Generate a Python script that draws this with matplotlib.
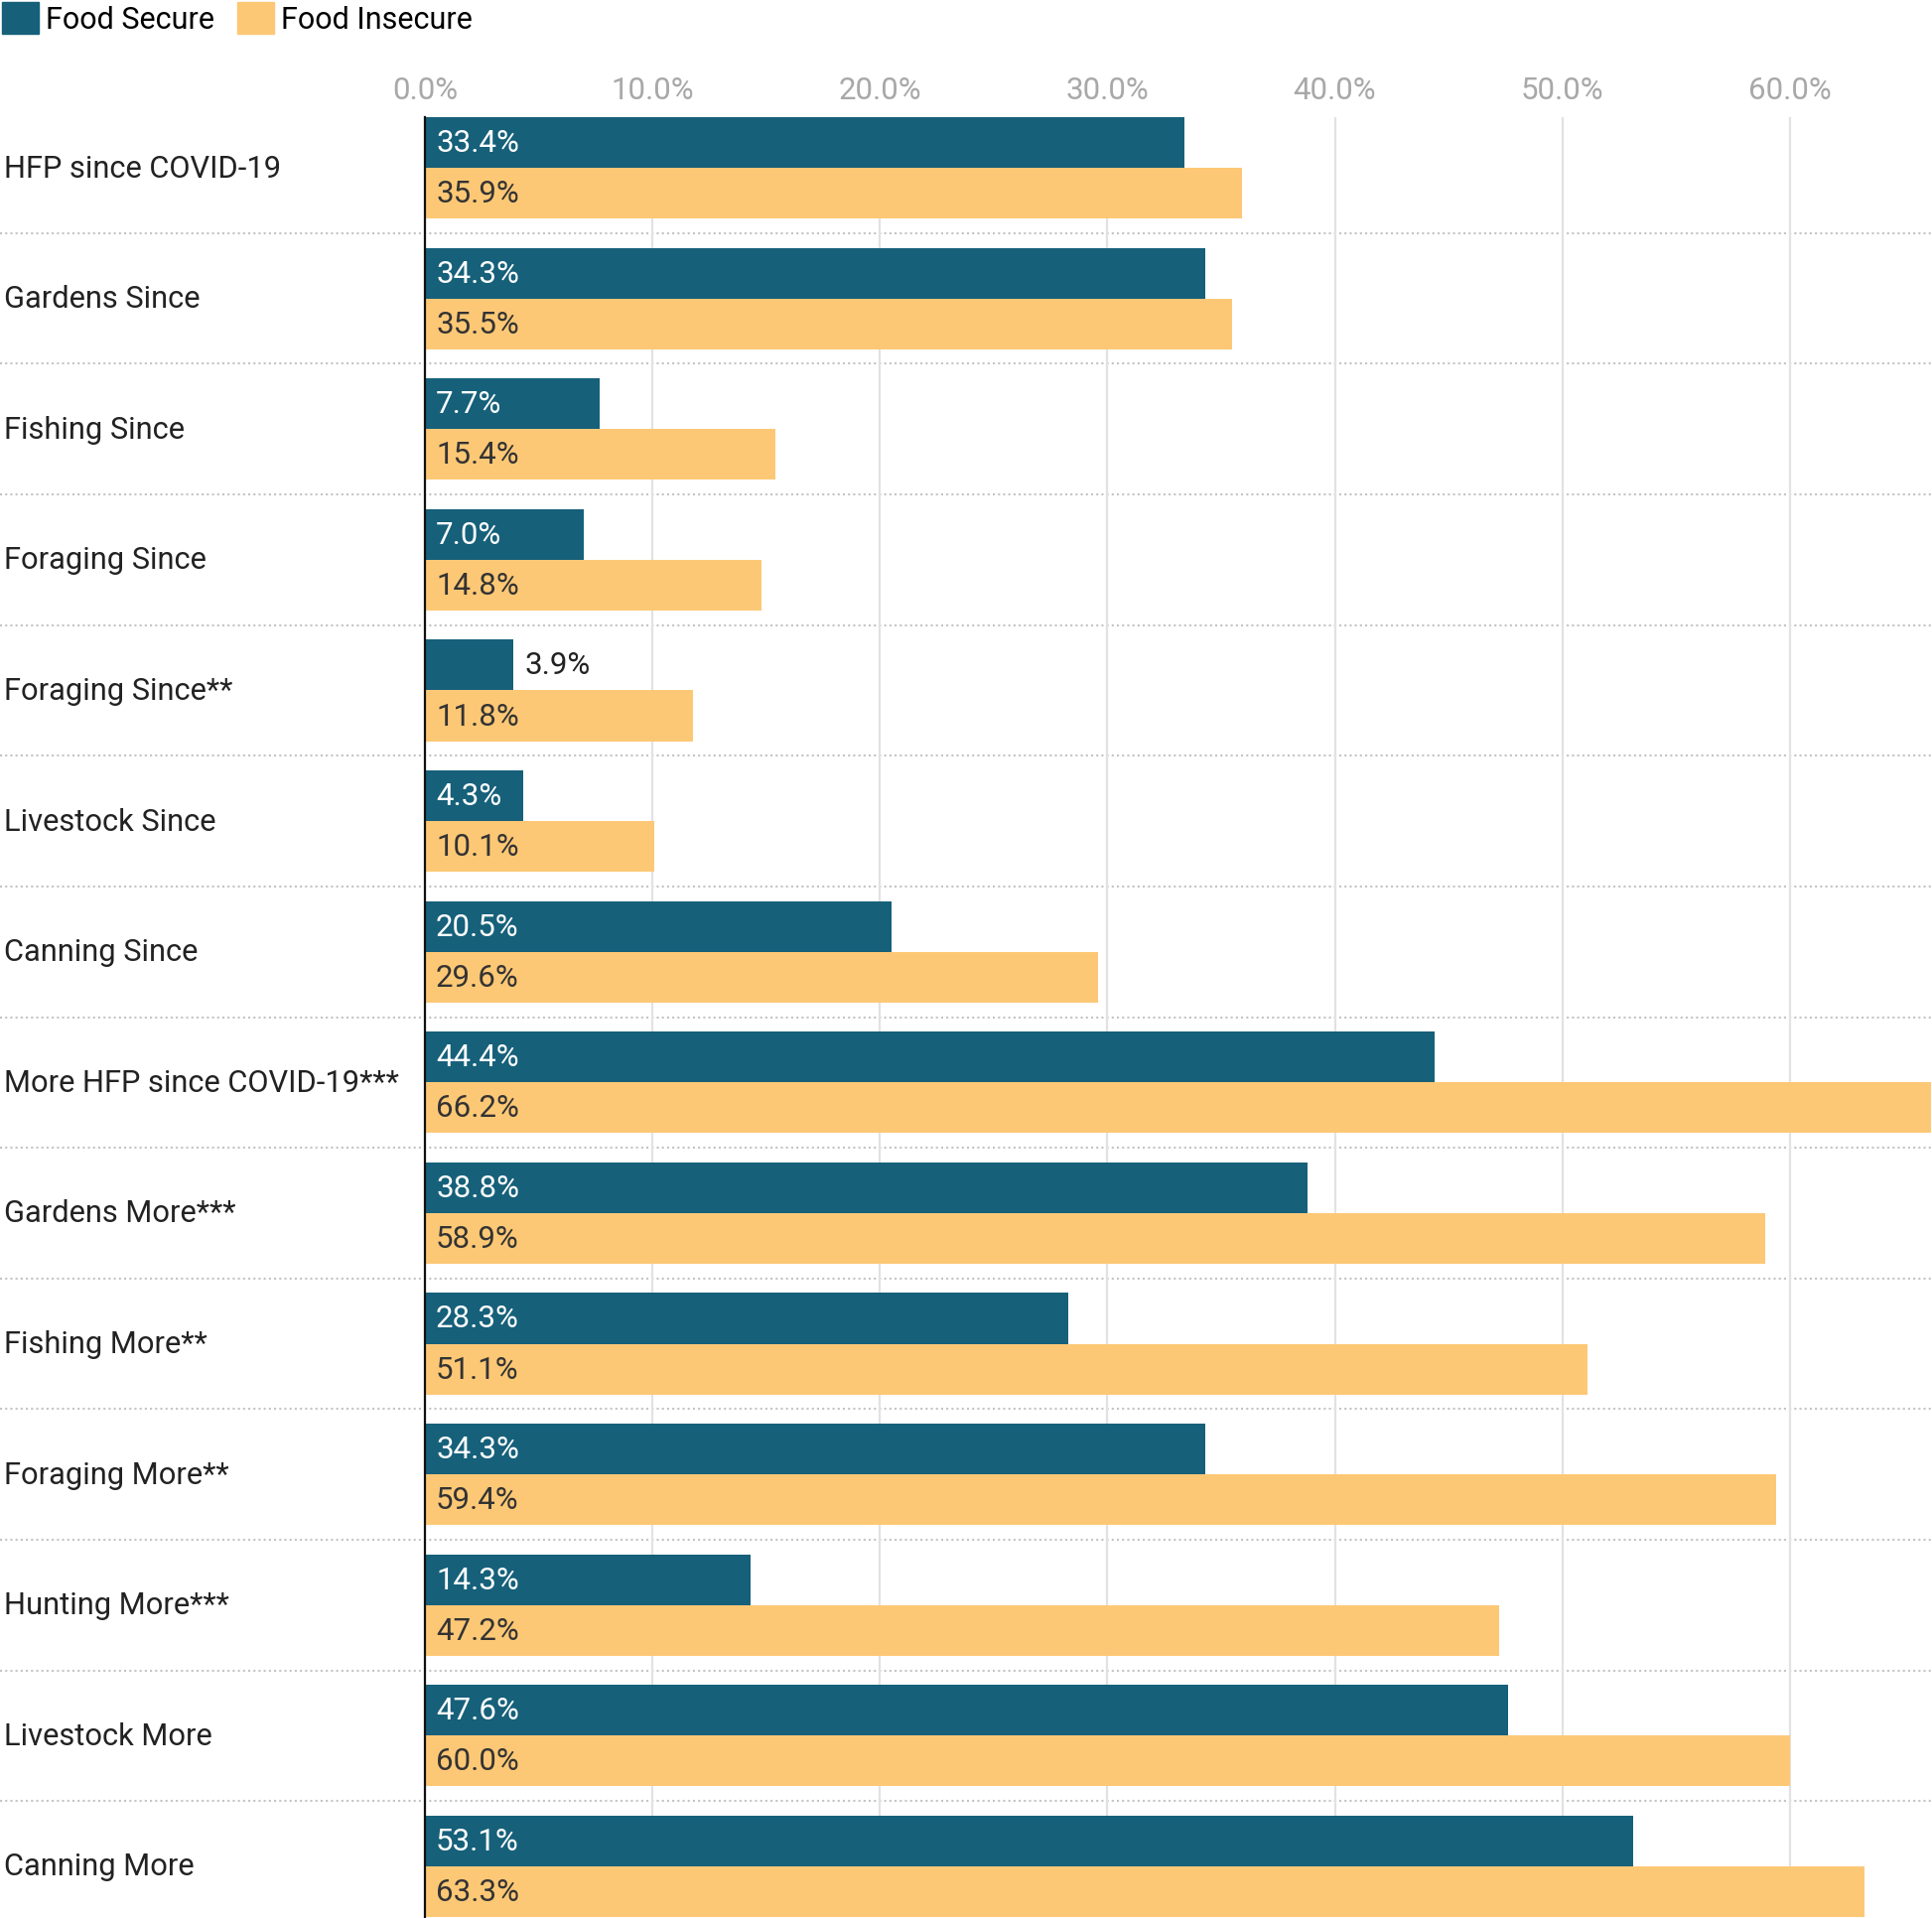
import matplotlib.pyplot as plt
import matplotlib.transforms as mtransforms
from matplotlib.patches import Patch

plt.rcParams['font.family'] = ['Roboto', 'DejaVu Sans']

categories = ["HFP since COVID-19", "Gardens Since", "Fishing Since", "Foraging Since",
              "Foraging Since**", "Livestock Since", "Canning Since",
              "More HFP since COVID-19***", "Gardens More***", "Fishing More**",
              "Foraging More**", "Hunting More***", "Livestock More", "Canning More"]
food_secure = [33.4, 34.3, 7.7, 7.0, 3.9, 4.3, 20.5, 44.4, 38.8, 28.3, 34.3, 14.3, 47.6, 53.1]
food_insecure = [35.9, 35.5, 15.4, 14.8, 11.8, 10.1, 29.6, 66.2, 58.9, 51.1, 59.4, 47.2, 60.0, 63.3]
ticks = [0, 10, 20, 30, 40, 50, 60]

TEAL = "#16607a"
YELLOW = "#fdc875"
FS = 22.5

fig = plt.figure(figsize=(19.46, 19.33), dpi=100)
ax = fig.add_axes([428 / 1946, 1 / 1933, 1 - 428 / 1946, (1932 - 119) / 1933])

h = 0.388
ys = list(range(len(categories)))
ax.barh([y - h / 2 for y in ys], food_secure, height=h, color=TEAL, zorder=3)
ax.barh([y + h / 2 for y in ys], food_insecure, height=h, color=YELLOW, zorder=3)

ax.set_xlim(0, 66.25)
ax.set_ylim(len(categories) - 1 + h, -h)

# value labels
for y, v in zip(ys, food_secure):
    if v < 4:
        ax.annotate(f"{v:.1f}%", (v, y - h / 2), xytext=(8, 0), textcoords="offset points",
                    ha="left", va="center", fontsize=FS, color="#222222", zorder=4)
    else:
        ax.annotate(f"{v:.1f}%", (0, y - h / 2), xytext=(8, 0), textcoords="offset points",
                    ha="left", va="center", fontsize=FS, color="white", zorder=4)
for y, v in zip(ys, food_insecure):
    ax.annotate(f"{v:.1f}%", (0, y + h / 2), xytext=(8, 0), textcoords="offset points",
                ha="left", va="center", fontsize=FS, color="#333333", zorder=4)

# category labels at the left edge of the figure
trans = mtransforms.blended_transform_factory(fig.transFigure, ax.transData)
for y, c in zip(ys, categories):
    ax.text(4 / 1946, y, c, transform=trans, ha="left", va="center", fontsize=22.2,
            color="#222222", clip_on=False)

# dotted separators between groups, spanning label area too
trans_ax = mtransforms.blended_transform_factory(ax.transAxes, ax.transData)
x0 = -428 / (1946 - 428)
for y in ys[:-1]:
    ax.plot([x0, 1], [y + 0.5, y + 0.5], transform=trans_ax, color="#c4c4c4",
            lw=1.5, ls=(0, (1, 1.5)), clip_on=False, zorder=1)

ax.set_xticks(ticks)
ax.set_xticklabels([f"{t:.1f}%" for t in ticks])
ax.xaxis.tick_top()
ax.tick_params(axis="x", length=0, pad=9, labelsize=FS, labelcolor="#a8a8a8")
ax.set_yticks([])
ax.grid(axis="x", color="#e2e2e2", lw=1.6, zorder=0)
for s in ["top", "right", "bottom"]:
    ax.spines[s].set_visible(False)
ax.spines["left"].set_color("#111111")
ax.spines["left"].set_linewidth(1.6)
ax.spines["left"].set_zorder(5)

handles = [Patch(color=TEAL, label="Food Secure"), Patch(color=YELLOW, label="Food Insecure")]
fig.legend(handles=handles, loc="upper left", bbox_to_anchor=(0.001, 1 - 3 / 1933), ncol=2,
           frameon=False, fontsize=22, handlelength=1.2, handleheight=1.25,
           handletextpad=0.25, columnspacing=0.75, borderpad=0, borderaxespad=0)

fig.savefig("out.png", dpi=100)
